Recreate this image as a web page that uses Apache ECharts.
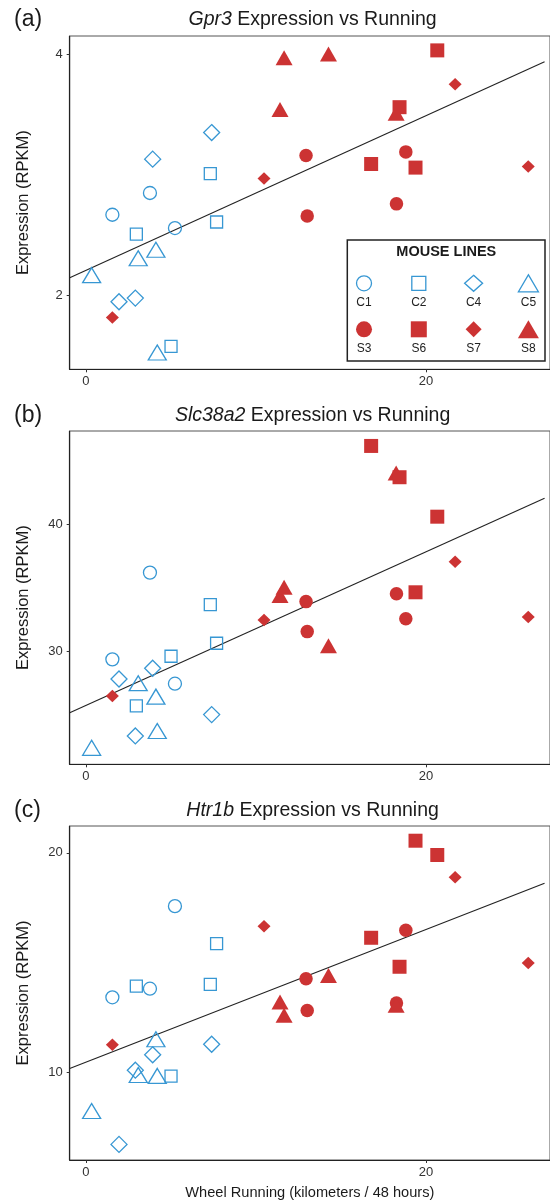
<!DOCTYPE html>
<html>
<head>
<meta charset="utf-8">
<script src="https://cdn.jsdelivr.net/npm/echarts@6/dist/echarts.min.js"></script>
<style>
html, body { margin: 0; padding: 0; background: #fff; }
#chart { width: 550px; height: 1201px; }
</style>
</head>
<body>
<div id="chart"></div>
<script>
// mouse lines, in legend order
const lineNames = ['C1', 'C2', 'C4', 'C5', 'S3', 'S6', 'S7', 'S8'];

// wheel running (km / 48 h) of each mouse, per line
const runningKm = [
	[1.56, 3.77, 5.24],
	[2.97, 5.01, 7.32, 7.69],
	[1.95, 2.91, 3.93, 7.40],
	[0.34, 3.08, 4.12, 4.20],
	[12.95, 13.02, 18.27, 18.82],
	[16.78, 18.45, 19.39, 20.67],
	[1.56, 10.48, 21.72, 26.02],
	[11.42, 11.66, 14.27, 18.25]
];

// expression (RPKM), same order as runningKm
const gpr3 = [
	[2.67, 2.85, 2.56],
	[2.51, 1.58, 3.01, 2.61],
	[1.95, 1.98, 3.13, 3.35],
	[2.17, 2.31, 2.38, 1.53],
	[3.16, 2.66, 2.76, 3.19],
	[3.09, 3.56, 3.06, 4.03],
	[1.82, 2.97, 3.75, 3.07],
	[3.54, 3.97, 4.00, 3.51]
];

const slc38a2 = [
	[29.40, 36.19, 27.49],
	[25.75, 29.64, 33.68, 30.66],
	[27.86, 23.40, 28.70, 25.07],
	[22.47, 27.53, 26.48, 23.79],
	[33.92, 31.57, 34.54, 32.58],
	[46.11, 43.66, 34.65, 40.57],
	[26.53, 32.48, 37.05, 32.72],
	[34.39, 35.04, 30.47, 43.99]
];

const htr1b = [
	[13.42, 13.81, 17.57],
	[13.93, 9.83, 14.01, 15.86],
	[6.72, 10.10, 10.80, 11.28],
	[8.24, 9.88, 11.51, 9.84],
	[14.26, 12.82, 13.16, 16.47],
	[16.13, 14.81, 20.55, 19.90],
	[11.26, 16.66, 18.89, 14.98],
	[13.21, 12.60, 14.41, 13.06]
];

// fitted lines (end points)
const gpr3Fit = [[-0.95, 2.149], [26.98, 3.936]];
const slc38a2Fit = [[-0.95, 25.22], [26.98, 42.01]];
const htr1bFit = [[-0.95, 10.18], [26.98, 18.61]];

// tick labels
const runTicks = [0, 20];
const gpr3Ticks = [2, 4];
const slc38a2Ticks = [30, 40];
const htr1bTicks = [10, 20];

const FONT = '"Liberation Sans", Arial, Helvetica, sans-serif';
const BLUE = '#3797d3';
const RED = '#cc3333';
const INK = '#1a1a1a';

const chart = echarts.init(document.getElementById('chart'));

// symbol, size in plot, size in legend
const markers = [
	['circle', 13, 15],
	['rect', 12, 14],
	['diamond', [16, 16], [18, 16]],
	['triangle', [18, 15], [20, 17]],
	['circle', 13.5, 16],
	['rect', 14, 16],
	['diamond', [13, 12.5], [16, 16]],
	['triangle', [17, 15], [21, 18]]
];

function styleFor(i) {
	if (i < 4) {
		return { color: 'rgba(0,0,0,0)', borderColor: BLUE, borderWidth: 1.3, opacity: 1 };
	}
	return { color: RED, borderWidth: 0, opacity: 1 };
}

const panels = [
	{ gene: 'Gpr3', values: gpr3, fit: gpr3Fit, ticks: gpr3Ticks, top: 36, height: 333.3, min: 1.391, max: 4.149, titleY: 20 },
	{ gene: 'Slc38a2', values: slc38a2, fit: slc38a2Fit, ticks: slc38a2Ticks, top: 431, height: 333.3, min: 21.18, max: 47.28, titleY: 416 },
	{ gene: 'Htr1b', values: htr1b, fit: htr1bFit, ticks: htr1bTicks, top: 826, height: 334, min: 6.01, max: 21.22, titleY: 811 }
];
const letters = ['(a)', '(b)', '(c)'];

// red drawn last so overlaps look like the original
const drawOrder = [0, 1, 2, 3, 4, 7, 5, 6];

const grid = [];
const xAxis = [];
const yAxis = [];
const series = [];
const graphic = [];

panels.forEach((p, k) => {
	grid.push({
		left: 69.7,
		top: p.top,
		width: 485.9,
		height: p.height,
		show: true,
		borderColor: '#555',
		borderWidth: 1,
		backgroundColor: '#fff'
	});

	xAxis.push({
		type: 'value',
		gridIndex: k,
		min: -0.95,
		max: 27.3,
		axisLine: { show: true, onZero: false, lineStyle: { color: '#222', width: 1.2 } },
		axisTick: { show: true, length: 3, customValues: runTicks, lineStyle: { color: '#333' } },
		axisLabel: { customValues: runTicks, fontSize: 13, color: '#333', fontFamily: FONT, margin: 6 },
		splitLine: { show: false },
		name: k === 2 ? 'Wheel Running (kilometers / 48 hours)' : '',
		nameLocation: 'middle',
		nameGap: 25,
		nameTextStyle: { fontSize: 14.6, color: INK, fontFamily: FONT }
	});

	yAxis.push({
		type: 'value',
		gridIndex: k,
		min: p.min,
		max: p.max,
		axisLine: { show: true, onZero: false, lineStyle: { color: '#222', width: 1.2 } },
		axisTick: { show: true, length: 3, customValues: p.ticks, lineStyle: { color: '#333' } },
		axisLabel: { customValues: p.ticks, fontSize: 13, color: '#333', fontFamily: FONT, margin: 7 },
		splitLine: { show: false },
		name: 'Expression (RPKM)',
		nameLocation: 'middle',
		nameGap: 38,
		nameTextStyle: { fontSize: 16.5, color: INK, fontFamily: FONT }
	});

	series.push({
		type: 'line',
		xAxisIndex: k,
		yAxisIndex: k,
		data: p.fit,
		symbol: 'none',
		lineStyle: { color: '#222', width: 1.1 },
		silent: true,
		z: 1
	});

	drawOrder.forEach(i => {
		series.push({
			type: 'scatter',
			name: lineNames[i],
			xAxisIndex: k,
			yAxisIndex: k,
			symbol: markers[i][0],
			symbolSize: markers[i][1],
			itemStyle: styleFor(i),
			data: runningKm[i].map((x, j) => [x, p.values[i][j]]),
			z: 2
		});
	});

	graphic.push({
		type: 'text',
		x: 14,
		y: p.titleY,
		silent: true,
		style: { text: letters[k], fontSize: 23, fontFamily: FONT, fill: INK, align: 'left', verticalAlign: 'middle' }
	});

	graphic.push({
		type: 'text',
		x: 312.6,
		y: p.titleY,
		silent: true,
		style: {
			text: '{i|' + p.gene + '}{n| Expression vs Running}',
			align: 'center',
			verticalAlign: 'middle',
			rich: {
				i: { fontStyle: 'italic', fontSize: 19.5, fontFamily: FONT, fill: INK },
				n: { fontSize: 19.5, fontFamily: FONT, fill: INK }
			}
		}
	});
});

// legend box, drawn as a small grid of its own
grid.push({
	left: 347.3,
	top: 240,
	width: 197.7,
	height: 121,
	show: true,
	backgroundColor: '#fff',
	borderColor: '#222',
	borderWidth: 1.5,
	z: 5
});
xAxis.push({ type: 'value', gridIndex: 3, min: -0.305, max: 3.303, show: false });
yAxis.push({ type: 'value', gridIndex: 3, min: -0.941, max: 1.689, inverse: true, show: false });

lineNames.forEach((name, i) => {
	series.push({
		type: 'scatter',
		xAxisIndex: 3,
		yAxisIndex: 3,
		symbol: markers[i][0],
		symbolSize: markers[i][2],
		itemStyle: styleFor(i),
		data: [[i % 4, Math.floor(i / 4)]],
		label: {
			show: true,
			position: 'inside',
			offset: [0, 19.2],
			formatter: name,
			fontSize: 12,
			color: '#222',
			fontFamily: FONT
		},
		silent: true,
		z: 6
	});
});

graphic.push({
	type: 'text',
	x: 446.3,
	y: 252.3,
	z: 10,
	silent: true,
	style: { text: 'MOUSE LINES', fontSize: 14.5, fontWeight: 'bold', fontFamily: FONT, fill: INK, align: 'center', verticalAlign: 'middle' }
});

chart.setOption({
	animation: false,
	grid,
	xAxis,
	yAxis,
	series,
	graphic
});

window.addEventListener('resize', () => {
	chart.resize();
});
</script>
</body>
</html>
